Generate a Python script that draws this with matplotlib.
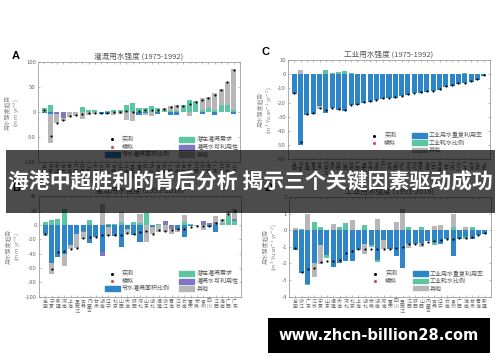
import numpy as np
import matplotlib
matplotlib.use("Agg")
import matplotlib.pyplot as plt
from matplotlib.patches import Patch, Rectangle
from matplotlib.lines import Line2D

plt.rcParams['font.family'] = ['Noto Sans CJK SC', 'DejaVu Sans']
plt.rcParams['axes.unicode_minus'] = False

# ---------- data ----------
labels_a = ["全国", "宁夏", "新疆", "甘肃", "青海", "内蒙古", "陕西", "山西", "天津", "北京",
            "河北", "吉林", "辽宁", "上海", "黑龙江", "重庆", "四川", "湖北", "贵州", "云南",
            "广西", "湖南", "海南", "安徽", "江西", "浙江", "福建", "广东", "江苏", "河南", "山东"]
a_green  = [8, 15, 0, 0, 0, 0, 10, 4, 4, 0, 2, 5, 4, 15, 19, 8, 8, 12, 8, 5, 2, 3, 14, 24, 22, 5, 8, 5, 15, 15, 5]
a_purple = [0, 0, -3, -12, 0, 0, 0, 0, 0, 0, 0, 0, 0, 0, 0, 0, 0, 0, 0, 0, 0, 0, 0, 0, 0, 0, 0, 0, 0, 0, 0]
a_gray   = [0, -59, -19, -6, -10, -7, -14, -5, -3, 0, 0, -5, -4, -15, -18, 0, -3, -8, 0, 3, 11, 12, 0, -8, 0, 23, 22, 33, 31, 46, 82]
a_blue   = [-2, -3, 0, 0, 0, 0, 0, 0, 0, -3, -3, 0, 0, 0, 0, -5, -2, 0, -3, 0, -5, -5, 0, 0, 0, -3, 0, -5, 0, 0, -3]
a_obs    = [5, -47, -21, -16, -8, -5, -3, -1, -1, -2, -1, 1, 0, 2, 1, 2, 4, 5, 5, 7, 10, 12, 13, 16, 20, 25, 28, 35, 45, 60, 85]

labels_b = ["全国", "宁夏", "新疆", "河南", "上海", "黑龙江", "吉林", "内蒙古", "甘肃", "湖南",
            "辽宁", "北京", "山西", "天津", "陕西", "河北", "山东", "湖北", "福建", "浙江",
            "青海", "江苏", "云南", "重庆", "安徽", "贵州", "四川", "江西", "海南", "广西", "广东"]
b_green  = [4, 7, 9, 22, 0, 0, 0, 7, 0, 0, 2, 2, 4, 0, 4, 3, 17, 0, 2, 0, 0, 0, 4, 1, 0, 0, 0, 0, 3, 13, 6]
b_purple = [0, 0, 0, 0, 0, 0, -2, 0, 0, -6, 0, 0, 0, 0, 0, 0, 0, 0, 0, 6, -5, 0, 0, 0, 0, 6, 3, 4, 0, 0, 3]
b_gray   = [-3, -16, 0, -17, -5, -19, -9, 0, -1, 29, -12, 0, 14, -7, 0, 12, -23, -9, -10, -10, -7, -3, 10, 0, -1, -7, 0, 9, 5, 6, 13]
b_blue   = [-12, -53, -45, -40, -28, -13, -8, -25, -16, -37, -3, -15, -31, -5, -14, -23, 0, -3, 0, 0, 0, -7, -16, -1, 0, 0, -3, -10, 0, 0, 0]
b_obs    = [-12, -62, -38, -36, -33, -32, -18, -16, -16, -14, -14, -14, -14, -11, -13, -10, -8, -12, -7, -8, -7, -5, -5, -2, -1, -1, -1, 3, 7, 16, 20]

labels_c = ["全国", "宁夏", "新疆", "青海", "甘肃", "内蒙古", "贵州", "陕西", "山西", "云南",
            "广西", "黑龙江", "吉林", "湖南", "四川", "安徽", "江西", "湖北", "河南", "河北",
            "重庆", "海南", "辽宁", "福建", "山东", "江苏", "浙江", "广东", "天津", "北京", "上海"]
c_blue  = [-14, -50, -29, -28, -22.5, -27, -24, -25, -26, -22, -21.5, -20, -19.5, -18.5, -17.5, -17,
           -16.5, -15.5, -14.5, -13.5, -13, -12.5, -12, -11, -9, -8, -7, -6.5, -5.5, -4, -1]
c_green = [0, 0, 0, 0, 0, 3, 0.5, 1.5, 2, 1, 0, 0, 0, 0, 0, 0, 0, 0, 0, 0, 0, 0, 0, 0, 0, 0, 0, 1, 0, 0, 0]
c_gray  = [0, 3, 0, 0, -2.3, 0, 0, 0, 0, 0, 0, 0, 0, 0, 0, 0, 0, 0, 0, 0, 0, 0, 0, 0, 0, 0, 0, 0, 0, 0, 0]
c_obs   = [-13, -48, -28, -27.5, -24, -25, -24, -24.5, -25, -22, -21, -19.5, -19, -18, -17, -16.5,
           -16, -15, -14, -13, -12.5, -12, -11.5, -10.5, -8.5, -7.5, -6.5, -6, -5, -3.5, -0.5]

labels_d = ["全国", "浙江", "广东", "江苏", "宁夏", "山东", "福建", "天津", "河北", "北京",
            "上海", "湖北", "安徽", "湖南", "河南", "重庆", "四川", "黑龙江", "江西", "陕西",
            "山西", "内蒙古", "吉林", "辽宁", "云南", "贵州", "广西", "海南", "甘肃", "青海", "新疆"]
d_blue  = [-1.2, -2.6, -3.25, -2.0, -0.9, -1.5, -2.2, -1.95, -1.85, -1.85, -1.1, -0.8, -0.9, -1.8, -0.6, -1.1,
           -1.55, -2.25, -0.8, -0.8, -0.75, -0.65, -0.7, -0.8, -0.5, -1.55, -0.5, -0.4, -0.5, -0.3, -0.2]
d_green = [0, 0.1, -0.05, 0.5, 0.2, -0.2, 0, 0.2, 0.45, 0, -0.1, 0.3, -0.1, -0.1, 0, 0,
           0, 0, 0.2, 0, 0.2, 0, -0.2, 0, 0, 0.2, 0, -0.15, 0.2, 0, 0]
d_gray  = [0.15, 0, 0.95, -0.8, -1.15, 0, 0.35, 0, 0, 0.6, 0, -0.65, 0, 0.7, -0.55, 0,
           0.5, 1.3, -0.25, 0, -0.25, 0, 0.25, 0.3, 0, 0.75, 0, 0.2, 0, 0, 0]
d_obs   = [-1.05, -2.5, -2.35, -2.3, -1.9, -1.85, -1.85, -1.8, -1.4, -1.25, -1.15, -1.15, -1.15, -1.15, -1.1, -1.1,
           -1.05, -1.0, -0.85, -0.85, -0.8, -0.7, -0.65, -0.6, -0.5, -0.5, -0.45, -0.45, -0.4, -0.3, -0.15]

GREEN = "#5cc6a0"
PURPLE = "#7f78c0"
GRAY = "#b7b7b7"
BLUE = "#2e86c8"
RED = "#d9415b"
AXC = "#8a8a8a"
TXT = "#6a6a6a"


def stacked(ax, comps, obs):
    n = len(obs)
    x = np.arange(1, n + 1)
    pos = np.zeros(n)
    neg = np.zeros(n)
    for vals, col in comps:
        v = np.array(vals, dtype=float)
        p = np.where(v > 0, v, 0)
        q = np.where(v < 0, v, 0)
        ax.bar(x, p, bottom=pos, width=0.8, color=col, linewidth=0, zorder=2)
        ax.bar(x, q, bottom=neg, width=0.8, color=col, linewidth=0, zorder=2)
        pos += p
        neg += q
    ax.plot(x, obs, "o", color="black", ms=1.6, mew=0, zorder=4)
    return x


def style(ax, x, labels, ylim, yticks, title, ylabel):
    ax.set_xlim(0, len(x) + 1)
    ax.set_ylim(*ylim)
    ax.set_yticks(yticks)
    ax.set_yticklabels([str(t) for t in yticks], fontsize=4.3, color=TXT)
    ax.set_xticks(x)
    ax.set_xticklabels(["\n".join(s) for s in labels], fontsize=3.5, color=TXT,
                       linespacing=0.95, va="top")
    ax.tick_params(direction="in", length=1.6, width=0.4, colors=AXC, pad=1.5,
                   top=True, right=True, labelcolor=TXT)
    for s in ax.spines.values():
        s.set_linewidth(0.5)
        s.set_color(AXC)
    ax.set_title(title, fontsize=5.5, color="#555555", pad=2.5)
    ax.set_ylabel(ylabel, fontsize=4.2, color="#8a8a8a", labelpad=2, linespacing=1.3)


fig = plt.figure(figsize=(5.0, 3.62), dpi=100)
ax_a = fig.add_axes([0.076, 0.5525, 0.404, 0.2754])
ax_c = fig.add_axes([0.576, 0.5594, 0.404, 0.2749])
ax_b = fig.add_axes([0.078, 0.1804, 0.404, 0.2770])
ax_d = fig.add_axes([0.578, 0.1804, 0.404, 0.2754])

irr_handles = [Line2D([], [], marker="o", ls="", color="black", ms=2.2, mew=0),
               Line2D([], [], marker="o", ls="", color=RED, ms=2.2, mew=0),
               Patch(color=BLUE),
               Patch(color=GREEN), Patch(color=PURPLE), Patch(color=GRAY)]
irr_labels = ["实测", "模拟", "节水灌溉面积比例", "潜在灌溉需求", "灌溉水可利用性", "其他"]
ind_handles = [Line2D([], [], marker="o", ls="", color="black", ms=2.2, mew=0),
               Line2D([], [], marker="o", ls="", color=RED, ms=2.2, mew=0),
               Patch(color="none"),
               Patch(color=BLUE), Patch(color=GREEN), Patch(color=GRAY)]
ind_labels = ["实测", "模拟", "", "工业用水重复利用率", "工业耗水比例", "其他"]

ylab_irr = "用水强度趋势\n(mm yr$^{-2}$)"
ylab_ind = "用水强度趋势\n(m$^3$ Yuan$^{-1}$ yr$^{-2}$)"

# A
x = stacked(ax_a, [(a_blue, BLUE), (a_green, GREEN), (a_purple, PURPLE), (a_gray, GRAY)], a_obs)
style(ax_a, x, labels_a, (-100, 100), [-100, -50, 0, 50, 100], "灌溉用水强度 (1975-1992)", ylab_irr)
# B
x = stacked(ax_b, [(b_blue, BLUE), (b_green, GREEN), (b_purple, PURPLE), (b_gray, GRAY)], b_obs)
style(ax_b, x, labels_b, (-100, 40), [-100, -80, -60, -40, -20, 0, 20, 40], "灌溉用水强度 (1993-2016)", ylab_irr)
# C
x = stacked(ax_c, [(c_blue, BLUE), (c_green, GREEN), (c_gray, GRAY)], c_obs)
style(ax_c, x, labels_c, (-60, 10), [-60, -50, -40, -30, -20, -10, 0, 10], "工业用水强度 (1975-1992)", ylab_ind)
# D
x = stacked(ax_d, [(d_blue, BLUE), (d_green, GREEN), (d_gray, GRAY)], d_obs)
style(ax_d, x, labels_d, (-4, 2), [-4, -3, -2, -1, 0, 1, 2], "工业用水强度 (1993-2016)", ylab_ind)

leg_kw = dict(ncol=2, frameon=False, fontsize=4.3, handlelength=2.5, handleheight=0.8,
              labelspacing=0.3, borderpad=0, handletextpad=0.4, loc="upper left")
for ax, anchor in [(ax_a, (0.315, 0.285)), (ax_b, (0.31, 0.29))]:
    lg = ax.legend(irr_handles, irr_labels, bbox_to_anchor=anchor, columnspacing=1.6, **leg_kw)
    for t in lg.get_texts():
        t.set_color("#555555")
for ax, anchor in [(ax_c, (0.375, 0.30)), (ax_d, (0.375, 0.29))]:
    lg = ax.legend(ind_handles, ind_labels, bbox_to_anchor=anchor, columnspacing=2.6, **leg_kw)
    for t in lg.get_texts():
        t.set_color("#555555")

lab_kw = dict(fontsize=8, fontweight="bold", ha="center", va="center", family="Liberation Sans")
fig.text(16 / 500, 1 - 56 / 362, "A", **lab_kw)
fig.text(266 / 500, 1 - 52 / 362, "C", **lab_kw)
fig.text(16 / 500, 1 - 188 / 362, "B", **lab_kw)
fig.text(268 / 500, 1 - 188 / 362, "D", **lab_kw)

# overlay banner
fig.patches.append(Rectangle((0.012, 1 - 213 / 362), 0.978, 63 / 362, transform=fig.transFigure,
                             facecolor="black", alpha=0.7, edgecolor="none", zorder=10))
fig.text(0.5, 1 - 182 / 362, "海港中超胜利的背后分析 揭示三个关键因素驱动成功", color="white",
         fontsize=15.0, fontweight="bold", ha="center", va="center", zorder=11)

# watermark
fig.patches.append(Rectangle((268 / 500, 1 - 353 / 362), 222 / 500, 35 / 362, transform=fig.transFigure,
                             facecolor="black", edgecolor="none", zorder=10))
fig.text(379 / 500, 1 - 335.5 / 362, "www.zhcn-billion28.com", color="white", fontsize=10.5,
         fontweight="bold", family="DejaVu Sans", ha="center", va="center", zorder=11)

fig.savefig("out.png", dpi=100)
